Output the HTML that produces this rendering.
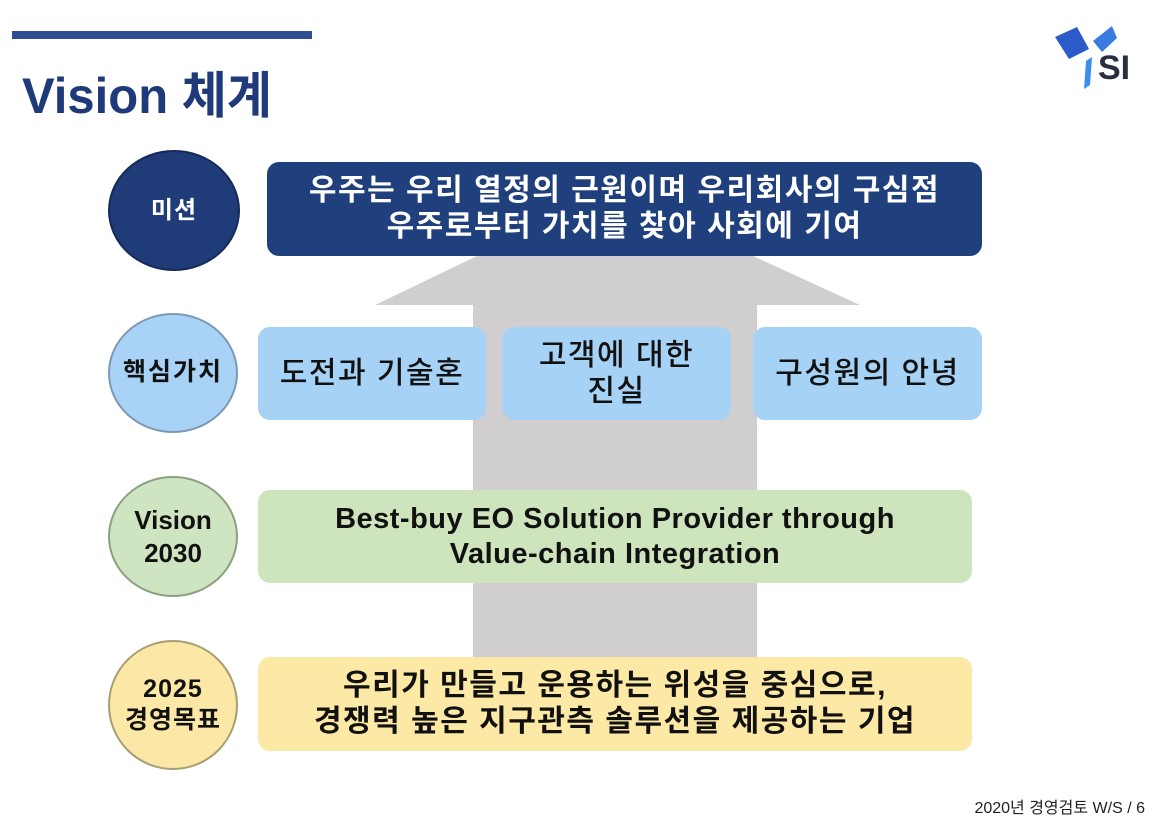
<!DOCTYPE html>
<html><head><meta charset="utf-8"><style>
body{margin:0;width:1154px;height:818px;background:#fff;position:relative;overflow:hidden;font-family:"Liberation Sans","Noto Sans CJK KR",sans-serif}
.a{position:absolute}
.c{position:absolute;border-radius:50%;display:flex;align-items:center;justify-content:center;text-align:center;font-weight:bold;box-sizing:border-box;border:2px solid #8a8a8a;line-height:1.25;white-space:nowrap}
.b{position:absolute;border-radius:12px;display:flex;align-items:center;justify-content:center;text-align:center;font-weight:bold;line-height:1.2;white-space:nowrap}
</style></head><body>
<div class="a" style="left:12px;top:31px;width:300px;height:8px;background:#2f4f94"></div>
<div class="a" style="left:22px;top:56px;font-size:50px;font-weight:bold;color:#1f3a7a;transform:scaleX(0.98);transform-origin:left">Vision 체계</div>
<svg class="a" style="left:1040px;top:15px" width="114" height="80">
<polygon points="15,22 37,12 49,34 29,44" fill="#2a5bc8"/>
<polygon points="53,26 72,11 77,23 62,37" fill="#3a7be0"/>
<polygon points="46,46 52,42 50,70 44,74" fill="#3b8ef0"/>
<text x="58" y="64" font-family="Liberation Sans" font-weight="bold" font-size="34" fill="#2a2f3d">SI</text>
</svg>
<svg class="a" style="left:0;top:0" width="1154" height="818">
<polygon points="477,256 753,256 860,305 757,305 757,657 473,657 473,305 375,305" fill="#d1cecf"/>
</svg>
<div class="c" style="left:108px;top:150px;width:132px;height:121px;background:#1f3b78;color:#fff;font-size:24px;border-color:#15295a;letter-spacing:1px">미션</div>
<div class="c" style="left:108px;top:313px;width:130px;height:120px;background:#a8d2f6;color:#111;font-size:25px;border-color:#7d98b5;letter-spacing:2px">핵심가치</div>
<div class="c" style="left:108px;top:476px;width:130px;height:121px;background:#cfe5c2;color:#111;font-size:26px;border-color:#8aa080">Vision<br>2030</div>
<div class="c" style="left:108px;top:640px;width:130px;height:130px;background:#fbe7a6;color:#111;font-size:25px;border-color:#a79e72;letter-spacing:1px">2025<br>경영목표</div>
<div class="b" style="left:267px;top:162px;width:715px;height:94px;background:#1f3f7d;color:#fff;font-size:30px;letter-spacing:1.5px">우주는 우리 열정의 근원이며 우리회사의 구심점<br>우주로부터 가치를 찾아 사회에 기여</div>
<div class="b" style="left:258px;top:327px;width:228px;height:93px;background:#a6d2f6;color:#111;font-size:30px;font-weight:500;letter-spacing:1.5px">도전과 기술혼</div>
<div class="b" style="left:502px;top:327px;width:229px;height:93px;background:#a6d2f6;color:#111;font-size:30px;font-weight:500;letter-spacing:1.5px">고객에 대한<br>진실</div>
<div class="b" style="left:753px;top:327px;width:229px;height:93px;background:#a6d2f6;color:#111;font-size:30px;font-weight:500;letter-spacing:1.5px">구성원의 안녕</div>
<div class="b" style="left:258px;top:490px;width:714px;height:93px;background:#cde4bd;color:#111;font-size:29px;letter-spacing:0.5px">Best-buy EO Solution Provider through<br>Value-chain Integration</div>
<div class="b" style="left:258px;top:657px;width:714px;height:94px;background:#fde9a6;color:#111;font-size:30px;letter-spacing:1.5px">우리가 만들고 운용하는 위성을 중심으로,<br>경쟁력 높은 지구관측 솔루션을 제공하는 기업</div>
<div class="a" style="right:9px;top:794px;font-size:16px;color:#222">2020년 경영검토 W/S / 6</div>
</body></html>
